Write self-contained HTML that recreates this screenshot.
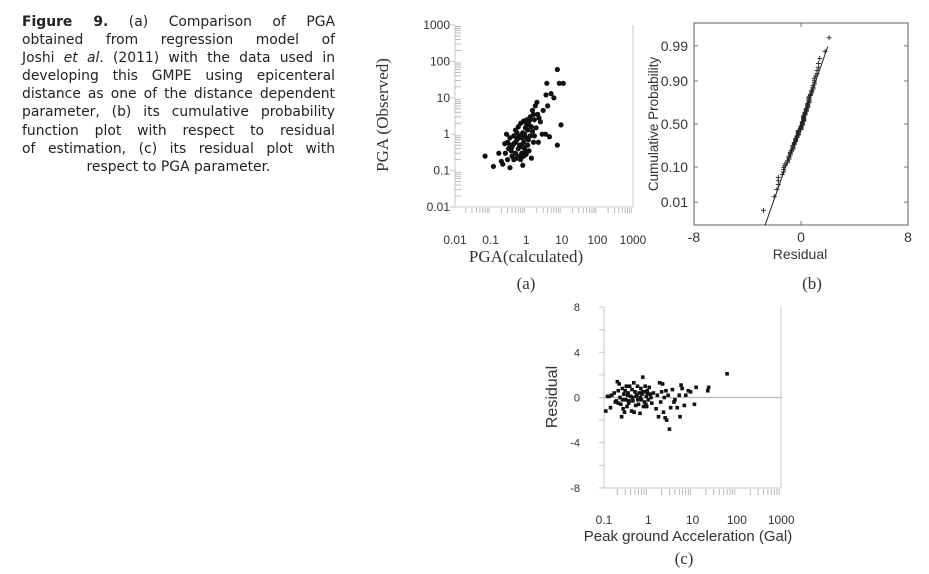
<!DOCTYPE html>
<html><head><meta charset="utf-8">
<style>
body{margin:0;width:929px;height:574px;background:#fff;overflow:hidden;position:relative}
#cap{position:absolute;left:22px;top:13px;width:313px;font-family:"DejaVu Sans","Liberation Sans",sans-serif;font-size:13.9px;color:#222;line-height:18.1px}
#cap div{text-align:justify;text-align-last:justify;white-space:nowrap}
#cap div.last{text-align:center;text-align-last:center}
svg{position:absolute;left:0;top:0}
</style></head><body>
<div id="cap">
<div><b>Figure 9.</b> (a) Comparison of PGA</div>
<div>obtained from regression model of</div>
<div>Joshi <i>et al</i>. (2011) with the data used in</div>
<div>developing this GMPE using epicenteral</div>
<div>distance as one of the distance dependent</div>
<div>parameter, (b) its cumulative probability</div>
<div>function plot with respect to residual</div>
<div>of estimation, (c) its residual plot with</div>
<div class="last">respect to PGA parameter.</div>
</div>
<svg id="svg" width="929" height="574" xmlns="http://www.w3.org/2000/svg"></svg>
<script>
// Chart (a) data
const aCalc=[0.07,0.12,0.17,0.2,0.22,0.25,0.26,0.28,0.3,0.32,0.35,0.35,0.38,0.4,0.42,0.45,0.45,0.5,0.5,0.55,0.55,0.6,0.6,0.65,0.65,0.7,0.7,0.75,0.8,0.8,0.85,0.85,0.9,0.95,1.0,1.0,1.05,1.1,1.2,1.2,1.3,1.3,1.4,1.5,1.5,1.6,1.7,1.8,1.9,2.0,2.1,2.2,2.5,2.8,3.0,3.5,3.6,3.8,4.0,4.5,5,6,7.5,7.5,8.5,9.5,11,0.55,0.65,0.75,0.9,1.1,0.5,0.4,0.3,0.7,0.95,1.15,1.4,1.6,0.8,0.6,1.0,1.25,0.45,0.35,0.85,2.3,1.7];
const aObs=[0.25,0.13,0.3,0.18,0.15,0.55,0.3,1.0,0.6,0.4,0.12,0.8,0.35,0.25,0.5,0.9,0.2,1.3,0.3,0.7,0.22,1.6,0.4,0.9,0.25,2.0,0.5,0.3,1.1,0.14,2.3,0.6,0.4,1.5,0.8,0.28,2.5,0.5,1.8,0.35,3.0,0.9,0.22,4.5,1.2,0.6,2.5,6.0,1.5,7.5,3.5,0.6,2.2,1.0,4.5,1.0,12,25,6,0.85,13,10,60,0.5,25,1.8,25,1.1,0.5,0.8,1.0,1.3,0.6,0.45,0.2,0.2,0.35,0.7,1.6,3.5,0.45,0.8,2.0,2.4,0.55,0.5,0.25,2.8,0.9];
const aTicks=["0.01","0.1","1","10","100","1000"];
// Chart (c) data
const cPGA=[0.11,0.12,0.13,0.14,0.15,0.17,0.19,0.2,0.21,0.22,0.23,0.24,0.25,0.26,0.27,0.28,0.29,0.3,0.31,0.32,0.33,0.35,0.36,0.38,0.4,0.42,0.43,0.45,0.47,0.48,0.5,0.52,0.55,0.57,0.6,0.62,0.65,0.68,0.7,0.72,0.75,0.78,0.8,0.82,0.85,0.9,0.92,0.95,1.0,1.05,1.1,1.2,1.3,1.5,1.6,1.7,1.8,1.9,2.0,2.1,2.2,2.3,2.4,2.5,2.6,2.8,3.0,3.2,3.5,3.8,4.0,4.5,5.0,5.2,5.5,5.8,6.5,7,8,9,11,12,22,23,60,0.34,0.37,0.44,0.53,0.58,0.66,0.74,0.88,0.97,1.15,0.26,0.21,0.18];
const cRes=[-1.2,0.1,0.1,-0.9,0.2,0.4,-0.3,1.4,-0.5,1.2,0.0,-0.6,-1.7,0.8,-1.0,0.3,-1.3,0.6,-0.2,1.0,-0.8,0.4,-0.5,1.0,0.1,-1.2,0.7,-0.3,1.3,-1.3,0.5,-0.7,0.2,1.0,-0.6,0.4,-1.4,0.8,-0.2,0.3,1.8,-0.8,0.5,-0.4,1.0,0.1,-0.8,0.6,-0.2,0.9,0.3,-0.5,0.4,-1.0,0.2,-1.7,1.3,-0.4,0.5,1.2,-1.3,0.0,-1.8,0.6,-2.0,0.2,-2.8,-0.9,0.7,-0.4,-0.2,-0.9,0.2,-1.7,1.1,0.8,-0.7,0.2,0.6,0.5,-0.6,0.9,0.6,0.9,2.1,0.2,-0.3,0.0,0.1,-0.2,0.0,0.5,-0.6,0.3,0.0,-0.2,0.6,-0.4];
const cYTicks=[8,4,0,-4,-8];
const cXTicks=["0.1","1","10","100","1000"];
// Chart (b) data
const bProbTicks=[0.99,0.90,0.50,0.10,0.01];
const bXTicks=[-8,0,8];

const svg=document.getElementById('svg');
const NS='http://www.w3.org/2000/svg';
function mk(tag,attrs,parent){const e=document.createElementNS(NS,tag);for(const k in attrs)e.setAttribute(k,attrs[k]);(parent||svg).appendChild(e);return e;}
function txt(s,x,y,attrs,parent){const t=mk('text',Object.assign({x:x,y:y},attrs),parent);t.textContent=s;return t;}
const L=Math.log10;
const SANS='"Liberation Sans",Arial,sans-serif', SERIF='"Liberation Serif","Times New Roman",serif';
const G='#c8c8c8';

// ---------- Chart (a)
const ga=mk('g',{});


const ax=v=>455+35.6*(L(v)+2), ay=v=>207-36.4*(L(v)+2);
mk('line',{x1:455,y1:25,x2:455,y2:207,stroke:G},ga);
mk('line',{x1:455,y1:207,x2:633,y2:207,stroke:G},ga);
mk('line',{x1:633,y1:25,x2:633,y2:207,stroke:G},ga);
for(let d=-2;d<3;d++){for(let m=2;m<10;m++){const v=m*Math.pow(10,d);
 mk('line',{x1:ax(v),y1:208,x2:ax(v),y2:213,stroke:'#aaa','stroke-width':0.8},ga);
 mk('line',{x1:455,y1:ay(v),x2:461,y2:ay(v),stroke:'#aaa','stroke-width':0.8},ga);}}
aTicks.forEach((s,i)=>{const v=parseFloat(s);
 const t1=txt(s,450,ay(v)+4,{'text-anchor':'end','font-family':SANS,'font-size':12,fill:'#333'},ga);
 
 const t2=txt(s,ax(v),244,{'text-anchor':'middle','font-family':SANS,'font-size':12,fill:'#333'},ga);
 
 mk('line',{x1:450,y1:ay(v),x2:455,y2:ay(v),stroke:G},ga);
});
aCalc.forEach((c,i)=>{const p=mk('circle',{cx:ax(c),cy:ay(aObs[i]),r:2.6,fill:'#111'},ga);
 });
let t=txt('PGA (Observed)',0,0,{'text-anchor':'middle','font-family':SERIF,'font-size':17,fill:'#333',transform:'translate(388,115) rotate(-90)'},ga);

t=txt('PGA(calculated)',526,262,{'text-anchor':'middle','font-family':SERIF,'font-size':17,fill:'#333'},ga);

t=txt('(a)',526,289,{'text-anchor':'middle','font-family':SERIF,'font-size':17,fill:'#333'},ga);


// ---------- Chart (b)
const gb=mk('g',{});


function ninv(p){
 const a=[-39.6968302866538,220.946098424521,-275.928510446969,138.357751867269,-30.6647980661472,2.50662827745924],
 b=[-54.4760987982241,161.585836858041,-155.698979859887,66.8013118877197,-13.2806815528857],
 c=[-0.00778489400243029,-0.322396458041136,-2.40075827716184,-2.54973253934373,4.37466414146497,2.93816398269878],
 d=[0.00778469570904146,0.32246712907004,2.445134137143,3.75440866190742];
 let q,r;
 if(p<0.02425){q=Math.sqrt(-2*Math.log(p));return (((((c[0]*q+c[1])*q+c[2])*q+c[3])*q+c[4])*q+c[5])/((((d[0]*q+d[1])*q+d[2])*q+d[3])*q+1);}
 if(p>1-0.02425){q=Math.sqrt(-2*Math.log(1-p));return -(((((c[0]*q+c[1])*q+c[2])*q+c[3])*q+c[4])*q+c[5])/((((d[0]*q+d[1])*q+d[2])*q+d[3])*q+1);}
 q=p-0.5;r=q*q;return (((((a[0]*r+a[1])*r+a[2])*r+a[3])*r+a[4])*r+a[5])*q/(((((b[0]*r+b[1])*r+b[2])*r+b[3])*r+b[4])*r+1);}
const bx=v=>801+13.375*v, by=z=>124-33.6*z;
mk('rect',{x:694,y:23,width:214,height:202,fill:'none',stroke:'#777','stroke-width':1.2},gb);
bProbTicks.forEach(p=>{const y=by(ninv(p));
 mk('line',{x1:694,y1:y,x2:698,y2:y,stroke:'#777'},gb);mk('line',{x1:904,y1:y,x2:908,y2:y,stroke:'#777'},gb);
 const tt=txt(p.toFixed(2),688,y+5,{'text-anchor':'end','font-family':SANS,'font-size':14,fill:'#333'},gb);
 });
bXTicks.forEach(v=>{mk('line',{x1:bx(v),y1:225,x2:bx(v),y2:221,stroke:'#777'},gb);mk('line',{x1:bx(v),y1:23,x2:bx(v),y2:27,stroke:'#777'},gb);
 const tt=txt(String(v),bx(v),242,{'text-anchor':'middle','font-family':SANS,'font-size':14,fill:'#333'},gb);
 });
const sorted=cRes.slice().sort((a,b)=>a-b), n=sorted.length;
const mean=sorted.reduce((s,v)=>s+v,0)/n, sd=Math.sqrt(sorted.reduce((s,v)=>s+(v-mean)*(v-mean),0)/(n-1));
const z1=-3.02,z2=2.3;
const fl=mk('line',{x1:bx(mean+sd*z1),y1:by(z1),x2:bx(mean+sd*z2),y2:by(z2),stroke:'#222','stroke-width':1},gb);

sorted.forEach((v,i)=>{const z=ninv((i+0.5)/n);const x=bx(v),y=by(z);
 const p=mk('path',{d:`M${x-2.5},${y}H${x+2.5}M${x},${y-2.5}V${y+2.5}`,stroke:'#222','stroke-width':0.9},gb);
 });
t=txt('Cumulative Probability',0,0,{'text-anchor':'middle','font-family':SANS,'font-size':13.5,fill:'#333',transform:'translate(658,124) rotate(-90)'},gb);

t=txt('Residual',800,259,{'text-anchor':'middle','font-family':SANS,'font-size':14,fill:'#333'},gb);

t=txt('(b)',812,289,{'text-anchor':'middle','font-family':SERIF,'font-size':17,fill:'#333'},gb);


// ---------- Chart (c)
const gc=mk('g',{});


const cx=v=>604+44.3*(L(v)+1), cy=v=>397.5-11.3*v;
mk('line',{x1:604,y1:307,x2:604,y2:488,stroke:G},gc);
mk('line',{x1:604,y1:488,x2:781,y2:488,stroke:G},gc);
mk('line',{x1:781,y1:307,x2:781,y2:488,stroke:G},gc);
mk('line',{x1:604,y1:cy(0),x2:781,y2:cy(0),stroke:'#bbb','stroke-width':1.2},gc);
for(let v=-8;v<=8;v+=2){mk('line',{x1:599,y1:cy(v),x2:604,y2:cy(v),stroke:G},gc);}
cYTicks.forEach(v=>{const tt=txt(String(v),580,cy(v)+4,{'text-anchor':'end','font-family':SANS,'font-size':11,fill:'#333'},gc);
 });
for(let d=-1;d<3;d++){for(let m=2;m<10;m++){const v=m*Math.pow(10,d);
 mk('line',{x1:cx(v),y1:489,x2:cx(v),y2:495,stroke:'#aaa','stroke-width':0.8},gc);}}
cXTicks.forEach(s=>{const v=parseFloat(s);
 const tt=txt(s,cx(v),524,{'text-anchor':'middle','font-family':SANS,'font-size':12,fill:'#333'},gc);
 });
cPGA.forEach((x,i)=>{const p=mk('rect',{x:cx(x)-1.8,y:cy(cRes[i])-1.8,width:3.6,height:3.6,fill:'#111'},gc);
 });
t=txt('Residual',0,0,{'text-anchor':'middle','font-family':SANS,'font-size':16,fill:'#333',transform:'translate(557,397) rotate(-90)'},gc);

t=txt('Peak ground Acceleration (Gal)',688,541,{'text-anchor':'middle','font-family':SANS,'font-size':15,fill:'#333'},gc);

t=txt('(c)',684,564,{'text-anchor':'middle','font-family':SERIF,'font-size':17,fill:'#333'},gc);

</script>
</body></html>
